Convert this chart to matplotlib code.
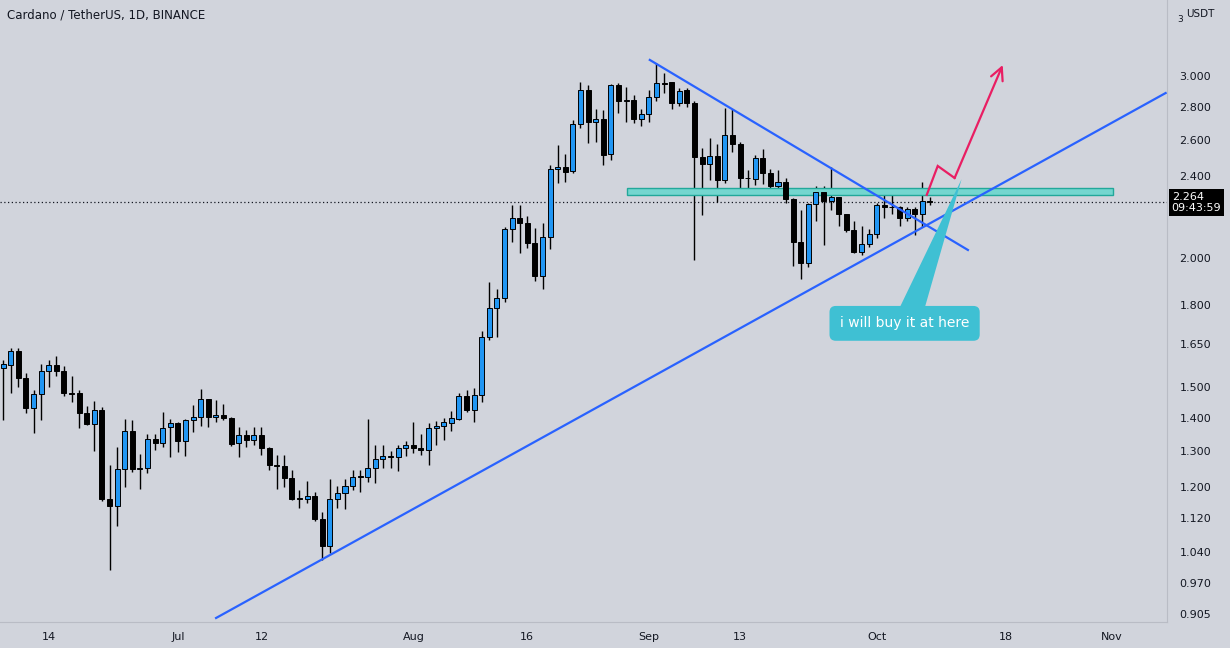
import pandas as pd
import matplotlib.pyplot as plt
import matplotlib.dates as mdates
from matplotlib.patches import Rectangle, Polygon
from matplotlib.ticker import NullLocator

# 日线 K 线数据 (ADA/USDT)
dates = pd.date_range('2021-06-08', periods=123, freq='D')
opens = [1.566, 1.575, 1.627, 1.530, 1.433, 1.476, 1.555, 1.576, 1.555, 1.482,
         1.480, 1.415, 1.382, 1.425, 1.170, 1.152, 1.250, 1.361, 1.250, 1.252,
         1.336, 1.324, 1.372, 1.385, 1.329, 1.394, 1.403, 1.460, 1.403, 1.410,
         1.400, 1.324, 1.348, 1.332, 1.348, 1.311, 1.262, 1.258, 1.224, 1.172,
         1.168, 1.178, 1.118, 1.052, 1.170, 1.184, 1.204, 1.231, 1.228, 1.253,
         1.278, 1.287, 1.283, 1.310, 1.319, 1.310, 1.304, 1.369, 1.375, 1.386,
         1.398, 1.471, 1.424, 1.475, 1.676, 1.789, 1.828, 2.132, 2.185, 2.160,
         2.066, 1.922, 2.097, 2.437, 2.448, 2.430, 2.697, 2.905, 2.705, 2.725,
         2.520, 2.940, 2.840, 2.842, 2.725, 2.757, 2.862, 2.955, 2.957, 2.827,
         2.908, 2.827, 2.506, 2.465, 2.511, 2.380, 2.631, 2.576, 2.391, 2.385,
         2.497, 2.415, 2.346, 2.367, 2.283, 2.074, 1.979, 2.255, 2.318, 2.271,
         2.290, 2.204, 2.129, 2.028, 2.063, 2.110, 2.250, 2.242, 2.242, 2.185,
         2.229, 2.204, 2.271]
highs = [1.594, 1.636, 1.636, 1.548, 1.491, 1.579, 1.594, 1.608, 1.573, 1.538,
         1.491, 1.437, 1.455, 1.434, 1.262, 1.312, 1.398, 1.395, 1.292, 1.350,
         1.350, 1.420, 1.398, 1.388, 1.397, 1.442, 1.493, 1.462, 1.458, 1.445,
         1.403, 1.374, 1.364, 1.374, 1.374, 1.314, 1.291, 1.291, 1.246, 1.193,
         1.217, 1.188, 1.135, 1.223, 1.204, 1.222, 1.248, 1.248, 1.398, 1.319,
         1.319, 1.302, 1.319, 1.329, 1.389, 1.350, 1.385, 1.392, 1.401, 1.422,
         1.482, 1.491, 1.497, 1.698, 1.895, 1.866, 2.145, 2.250, 2.250, 2.196,
         2.137, 2.160, 2.459, 2.572, 2.522, 2.720, 2.962, 2.940, 2.788, 2.781,
         2.945, 2.950, 2.930, 2.876, 2.788, 2.905, 3.090, 3.022, 2.960, 2.920,
         2.920, 2.840, 2.557, 2.613, 2.580, 2.795, 2.790, 2.587, 2.433, 2.515,
         2.550, 2.440, 2.433, 2.390, 2.288, 2.226, 2.260, 2.346, 2.346, 2.450,
         2.290, 2.204, 2.170, 2.147, 2.133, 2.262, 2.315, 2.312, 2.244, 2.239,
         2.239, 2.370, 2.290]
lows = [1.395, 1.480, 1.502, 1.417, 1.354, 1.395, 1.502, 1.539, 1.472, 1.452,
        1.371, 1.380, 1.302, 1.165, 0.998, 1.101, 1.200, 1.241, 1.196, 1.240,
        1.304, 1.314, 1.283, 1.299, 1.286, 1.356, 1.376, 1.374, 1.387, 1.395,
        1.317, 1.285, 1.314, 1.319, 1.291, 1.248, 1.196, 1.202, 1.167, 1.146,
        1.159, 1.114, 1.021, 1.036, 1.145, 1.143, 1.193, 1.188, 1.215, 1.211,
        1.253, 1.253, 1.244, 1.286, 1.294, 1.291, 1.260, 1.319, 1.334, 1.359,
        1.393, 1.418, 1.389, 1.452, 1.666, 1.676, 1.815, 2.074, 2.021, 2.044,
        1.901, 1.866, 2.040, 2.362, 2.370, 2.419, 2.672, 2.583, 2.591, 2.459,
        2.488, 2.762, 2.705, 2.700, 2.686, 2.705, 2.838, 2.890, 2.790, 2.806,
        2.797, 1.990, 2.201, 2.380, 2.265, 2.362, 2.535, 2.307, 2.315, 2.354,
        2.358, 2.310, 2.310, 2.263, 1.963, 1.907, 1.960, 2.170, 2.059, 2.226,
        2.147, 2.121, 2.021, 2.015, 2.048, 2.092, 2.185, 2.204, 2.147, 2.170,
        2.105, 2.143, 2.250]
closes = [1.579, 1.627, 1.530, 1.433, 1.476, 1.555, 1.576, 1.555, 1.482, 1.478,
          1.415, 1.382, 1.425, 1.170, 1.152, 1.250, 1.361, 1.250, 1.252, 1.336,
          1.324, 1.371, 1.385, 1.329, 1.395, 1.403, 1.460, 1.403, 1.410, 1.400,
          1.322, 1.348, 1.332, 1.348, 1.311, 1.262, 1.258, 1.224, 1.169, 1.168,
          1.178, 1.118, 1.052, 1.170, 1.184, 1.204, 1.229, 1.228, 1.253, 1.278,
          1.287, 1.283, 1.310, 1.319, 1.310, 1.304, 1.369, 1.376, 1.387, 1.401,
          1.471, 1.424, 1.475, 1.676, 1.789, 1.828, 2.132, 2.185, 2.160, 2.066,
          1.922, 2.097, 2.437, 2.448, 2.424, 2.697, 2.905, 2.705, 2.725, 2.518,
          2.940, 2.840, 2.842, 2.725, 2.757, 2.862, 2.952, 2.947, 2.827, 2.900,
          2.827, 2.506, 2.465, 2.511, 2.380, 2.631, 2.576, 2.391, 2.388, 2.497,
          2.415, 2.346, 2.367, 2.283, 2.074, 1.979, 2.255, 2.318, 2.271, 2.290,
          2.204, 2.129, 2.028, 2.063, 2.110, 2.250, 2.242, 2.240, 2.185, 2.229,
          2.204, 2.271, 2.264]
last_price = 2.264
last_time = '09:43:59'

ytick_vals = [0.905, 0.970, 1.040, 1.120, 1.200, 1.300, 1.400, 1.500, 1.650,
              1.800, 2.000, 2.400, 2.600, 2.800, 3.000]
xtick_dates = ['2021-06-14', '2021-07-01', '2021-07-12', '2021-08-01', '2021-08-16',
               '2021-09-01', '2021-09-13', '2021-10-01', '2021-10-18', '2021-11-01']
xtick_labels = ['14', 'Jul', '12', 'Aug', '16', 'Sep', '13', 'Oct', '18', 'Nov']

# 画线工具 (时间, 价格)
support_t = ['2021-07-06 00:40', '2021-11-08 00:40']
support_p = [0.897, 2.888]
resist_t = ['2021-09-01 03:00', '2021-10-13 00:00']
resist_p = [3.109, 2.036]
zone_t = ['2021-08-29 02:00', '2021-11-01 01:00']
zone_p = [2.302, 2.340]
path_t = ['2021-10-07 14:00', '2021-10-09 00:40', '2021-10-11 06:00', '2021-10-17 14:00']
path_p = [2.302, 2.455, 2.390, 3.074]
note_t = '2021-10-04 16:00'
note_p = 1.729
pointer_t = ['2021-10-03 18:00', '2021-10-07 04:00', '2021-10-12 04:00']
pointer_p = [1.774, 1.774, 2.384]

bg = '#d1d4dc'
txt = '#131722'
up_col = '#2196f3'
line_col = '#2962ff'

fig = plt.figure(figsize=(12.3, 6.48), dpi=100, facecolor=bg)
ax = fig.add_axes([0, 26 / 648, 1167 / 1230, 622 / 648], facecolor=bg)

x = mdates.date2num(dates)
ax.vlines(x, lows, highs, color='black', lw=1.0, zorder=2)
bottoms = [min(o, c) for o, c in zip(opens, closes)]
heights = [abs(c - o) for o, c in zip(opens, closes)]
cols = [up_col if c >= o else 'black' for o, c in zip(opens, closes)]
ax.bar(x, heights, bottom=bottoms, width=0.66, color=cols,
       edgecolor='black', linewidth=0.7, zorder=3)

# 当前价格虚线
ax.axhline(last_price, color=txt, lw=0.9, ls=(0, (1, 2)), zorder=1)

# 阻力区域
zt = mdates.date2num(pd.to_datetime(zone_t))
ax.add_patch(Rectangle((zt[0], zone_p[0]), zt[1] - zt[0], zone_p[1] - zone_p[0],
                       facecolor='#74d6cf', edgecolor='#22a89a', lw=1.0, zorder=2))

# 趋势线
ax.plot(pd.to_datetime(support_t), support_p, color=line_col, lw=1.6, zorder=4)
ax.plot(pd.to_datetime(resist_t), resist_p, color=line_col, lw=1.6, zorder=4)

# 粉色路径箭头
pt = mdates.date2num(pd.to_datetime(path_t))
ax.plot(pt[:-1], path_p[:-1], color='#e91e63', lw=1.6, zorder=5,
        solid_joinstyle='miter')
ax.annotate('', xy=(pt[-1], path_p[-1]), xytext=(pt[-2], path_p[-2]),
            arrowprops=dict(arrowstyle='->,head_length=0.9,head_width=0.45',
                            color='#e91e63', lw=1.6, shrinkA=0, shrinkB=0),
            zorder=5)

# 标注气泡
pp = mdates.date2num(pd.to_datetime(pointer_t))
ax.add_patch(Polygon(list(zip(pp, pointer_p)), closed=True,
                     facecolor='#3fc0d3', edgecolor='none', zorder=6))
ax.text(mdates.date2num(pd.Timestamp(note_t)), note_p, 'i will buy it at here',
        color='white', fontsize=10, ha='center', va='center', zorder=7,
        bbox=dict(boxstyle='round,pad=0.75,rounding_size=0.45',
                  facecolor='#3fc0d3', edgecolor='none'))

ax.set_yscale('log')
ax.set_xlim(mdates.date2num(pd.Timestamp('2021-06-07 14:00')),
            mdates.date2num(pd.Timestamp('2021-11-08 05:00')))
ax.set_ylim(0.889, 3.553)

ax.yaxis.tick_right()
ax.set_yticks(ytick_vals)
ax.set_yticklabels([f'{v:.3f}' for v in ytick_vals])
ax.yaxis.set_minor_locator(NullLocator())
ax.set_xticks(mdates.date2num(pd.to_datetime(xtick_dates)))
ax.set_xticklabels(xtick_labels)
ax.xaxis.set_minor_locator(NullLocator())
ax.tick_params(axis='y', length=0, pad=9, labelsize=8, labelcolor=txt)
ax.tick_params(axis='x', length=0, pad=7, labelsize=8, labelcolor=txt)

for s in ['top', 'left']:
    ax.spines[s].set_visible(False)
for s in ['right', 'bottom']:
    ax.spines[s].set_color('#b9bcc5')
    ax.spines[s].set_linewidth(0.8)

# 最新价标签
ax.text(1.004, last_price, f'{last_price:.3f}\n{last_time}', transform=ax.get_yaxis_transform(),
        color='white', fontsize=8, ha='left', va='center', linespacing=1.05,
        clip_on=False, zorder=8,
        bbox=dict(boxstyle='square,pad=0.28', facecolor='black', edgecolor='none'))

# 标题
fig.text(7 / 1230, 1 - 15 / 648, 'Cardano / TetherUS, 1D, BINANCE',
         fontsize=8.5, color=txt, ha='left', va='center')
fig.text(1177 / 1230, 1 - 20 / 648, '3', fontsize=6.5, color=txt, ha='left', va='center')
fig.text(1186 / 1230, 1 - 14 / 648, 'USDT', fontsize=7.5, color=txt, ha='left', va='center')

fig.savefig('out.png', dpi=100, facecolor=bg)
